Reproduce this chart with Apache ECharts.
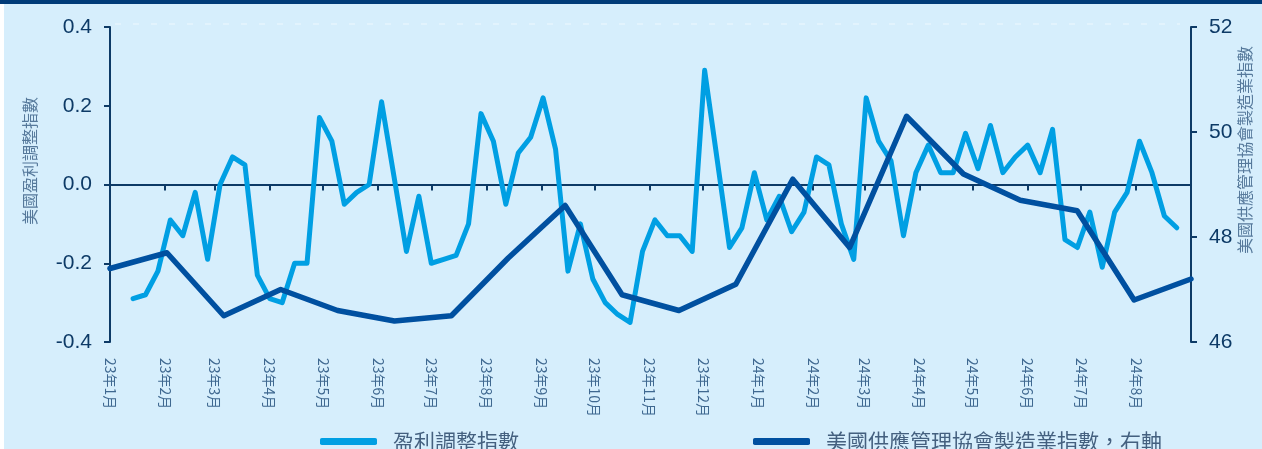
<!DOCTYPE html>
<html>
<head>
<meta charset="utf-8">
<script src="https://cdn.jsdelivr.net/npm/echarts@6/dist/echarts.min.js"></script>
<style>
  html, body { margin: 0; padding: 0; background: #ffffff; }
  #chart { width: 1262px; height: 449px; }
</style>
</head>
<body>
<div id="chart"></div>
<script>
// ---------- DATA ----------
const monthLabels = ['23年1月','23年2月','23年3月','23年4月','23年5月','23年6月','23年7月','23年8月','23年9月','23年10月',
  '23年11月','23年12月','24年1月','24年2月','24年3月','24年4月','24年5月','24年6月','24年7月','24年8月'];

// ISM manufacturing index (monthly, right axis)
const ismMonths = ['2023-01','2023-02','2023-03','2023-04','2023-05','2023-06','2023-07','2023-08','2023-09','2023-10',
  '2023-11','2023-12','2024-01','2024-02','2024-03','2024-04','2024-05','2024-06','2024-07','2024-08'];
const ismValues = [47.4, 47.7, 46.5, 47.0, 46.6, 46.4, 46.5, 47.6, 48.6, 46.9,
  46.6, 47.1, 49.1, 47.8, 50.3, 49.2, 48.7, 48.5, 46.8, 47.2];

// Earnings revision index (weekly, left axis), first observation week
const firstWeek = '2023-01-14';
const revisionValues = [
  -0.29, -0.28, -0.22, -0.09, -0.13, -0.02, -0.19, 0.00, 0.07, 0.05,
  -0.23, -0.29, -0.30, -0.20, -0.20, 0.17, 0.11, -0.05, -0.02, 0.00,
  0.21, 0.02, -0.17, -0.03, -0.20, -0.19, -0.18, -0.10, 0.18, 0.11,
  -0.05, 0.08, 0.12, 0.22, 0.09, -0.22, -0.10, -0.24, -0.30, -0.33,
  -0.35, -0.17, -0.09, -0.13, -0.13, -0.17, 0.29, 0.065, -0.16, -0.11,
  0.03, -0.09, -0.03, -0.12, -0.07, 0.07, 0.05, -0.10, -0.19, 0.22,
  0.11, 0.06, -0.13, 0.03, 0.10, 0.03, 0.03, 0.13, 0.04, 0.15,
  0.03, 0.07, 0.10, 0.03, 0.14, -0.14, -0.16, -0.07, -0.21, -0.07,
  -0.02, 0.11, 0.03, -0.08, -0.11
];

const leftTicks = { min: -0.4, max: 0.4, interval: 0.2 };
const rightTicks = { min: 46, max: 52, interval: 2 };

const seriesNames = ['盈利調整指數', '美國供應管理協會製造業指數，右軸'];
const leftAxisName = '美國盈利調整指數';
const rightAxisName = '美國供應管理協會製造業指數';

// ---------- BUILD ----------
const [fy, fm, fd] = firstWeek.split('-').map(Number);
const revisionData = revisionValues.map((v, k) => [new Date(fy, fm - 1, fd + 7 * k).getTime(), v]);
const axisStart = new Date(2023, 0, 1).getTime();
const axisEnd = new Date(2024, 8, 1).getTime();
const monthStarts = monthLabels.map((_, i) => new Date(2023, i, 1).getTime());

const NAVY = '#0d3a66';
const LIGHT = '#009fe3';
const DARK = '#0050a0';
const LABEL = '#3f6890';
const NUMFONT = '"Liberation Sans", Arial, "Noto Sans CJK TC", sans-serif';
const CJKFONT = '"Noto Sans CJK TC", "Liberation Sans", sans-serif';

const chart = echarts.init(document.getElementById('chart'), null, { renderer: 'canvas' });
chart.setOption({
  backgroundColor: '#d6eefc',
  animation: false,
  grid: { left: 110, right: 71, top: 27, bottom: 107, containLabel: false },
  graphic: [
    { type: 'rect', shape: { x: 0, y: 0, width: 1262, height: 4 }, style: { fill: '#003b78' }, z: -1 },
    { type: 'rect', shape: { x: 0, y: 4, width: 4, height: 445 }, style: { fill: '#ffffff' }, z: -1 },
    { type: 'line', shape: { x1: 115, y1: 24, x2: 1180, y2: 24 }, style: { stroke: '#ffffff', lineWidth: 1, lineDash: [6, 12], opacity: 0.6 }, z: -1 },
    { type: 'text', x: 30, y: 161, rotation: Math.PI / 2,
      style: { text: leftAxisName, fill: '#56799b', font: '16px ' + CJKFONT, align: 'center', verticalAlign: 'middle' } },
    { type: 'text', x: 1245, y: 150, rotation: Math.PI / 2,
      style: { text: rightAxisName, fill: '#56799b', font: '16px ' + CJKFONT, align: 'center', verticalAlign: 'middle' } }
  ],
  legend: [
    { data: [seriesNames[0]], left: 315, top: 426, itemWidth: 57, itemHeight: 7, icon: 'roundRect',
      textStyle: { color: '#44607f', fontSize: 21, fontFamily: CJKFONT, padding: [0, 0, 0, 11] } },
    { data: [seriesNames[1]], left: 748, top: 426, itemWidth: 57, itemHeight: 7, icon: 'roundRect',
      textStyle: { color: '#44607f', fontSize: 21, fontFamily: CJKFONT, padding: [0, 0, 0, 11] } }
  ],
  xAxis: [
    { // labels at the bottom (dates as timestamps)
      type: 'value', min: axisStart, max: axisEnd, position: 'bottom',
      axisLine: { show: false, onZero: false }, axisTick: { show: false }, splitLine: { show: false },
      axisLabel: {
        show: true, rotate: -90, margin: 16, color: LABEL, fontSize: 14, fontFamily: CJKFONT,
        padding: [0, 0, 7, 0],
        customValues: monthStarts,
        formatter: (val) => {
          const d = new Date(val);
          const idx = (d.getFullYear() - 2023) * 12 + d.getMonth();
          return monthLabels[idx] || '';
        }
      }
    },
    { // zero line with month ticks
      type: 'value', min: axisStart, max: axisEnd, position: 'bottom',
      axisLine: { show: true, onZero: true, onZeroAxisIndex: 0, lineStyle: { color: NAVY, width: 2 } },
      axisTick: { show: true, length: 6, lineStyle: { color: NAVY, width: 2 }, customValues: monthStarts },
      axisLabel: { show: false }, splitLine: { show: false }
    },
    { // ISM monthly category axis (hidden)
      type: 'category', data: ismMonths, boundaryGap: false, position: 'top', show: false
    }
  ],
  yAxis: [
    {
      type: 'value', position: 'left', min: leftTicks.min, max: leftTicks.max, interval: leftTicks.interval,
      axisLine: { show: true, onZero: false, lineStyle: { color: NAVY, width: 2 } },
      axisTick: { show: true, length: 6, lineStyle: { color: NAVY, width: 2 } },
      splitLine: { show: false },
      axisLabel: { color: NAVY, fontSize: 21, fontFamily: NUMFONT, margin: 18, formatter: v => v.toFixed(1) }
    },
    {
      type: 'value', position: 'right', min: rightTicks.min, max: rightTicks.max, interval: rightTicks.interval,
      axisLine: { show: true, onZero: false, lineStyle: { color: NAVY, width: 2 } },
      axisTick: { show: true, length: 6, lineStyle: { color: NAVY, width: 2 } },
      splitLine: { show: false },
      axisLabel: { color: NAVY, fontSize: 21, fontFamily: NUMFONT, margin: 18 }
    }
  ],
  series: [
    {
      name: seriesNames[0], type: 'line', xAxisIndex: 0, yAxisIndex: 0, data: revisionData,
      symbol: 'none', color: LIGHT,
      lineStyle: { color: LIGHT, width: 5, cap: 'round', join: 'round' }, z: 2
    },
    {
      name: seriesNames[1], type: 'line', xAxisIndex: 2, yAxisIndex: 1, data: ismValues,
      symbol: 'none', color: DARK,
      lineStyle: { color: DARK, width: 5.5, cap: 'round', join: 'round' }, z: 3
    }
  ]
});
</script>
</body>
</html>
